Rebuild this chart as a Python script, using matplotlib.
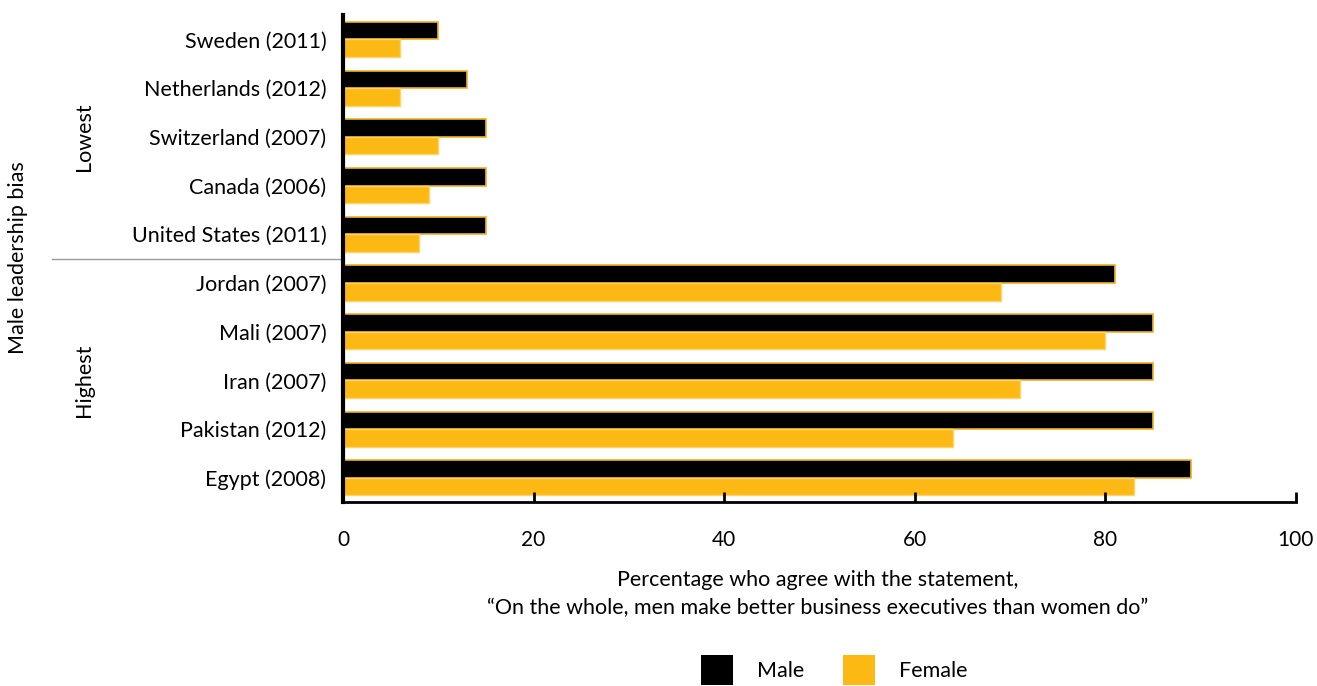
import matplotlib
matplotlib.use("Agg")
import matplotlib.pyplot as plt
import numpy as np
from matplotlib.patches import Patch
import matplotlib.transforms as mtransforms

plt.rcParams['font.family'] = ['Lato', 'DejaVu Sans']

countries = ["Sweden (2011)", "Netherlands (2012)", "Switzerland (2007)", "Canada (2006)",
             "United States (2011)", "Jordan (2007)", "Mali (2007)", "Iran (2007)",
             "Pakistan (2012)", "Egypt (2008)"]
male = [10, 13, 15, 15, 15, 81, 85, 85, 85, 89]
female = [6, 6, 10, 9, 8, 69, 80, 71, 64, 83]
groups = ["Lowest", "Highest"]
xticks = [0, 20, 40, 60, 80, 100]

fig = plt.figure(figsize=(13.17, 6.86), dpi=100)
ax = fig.add_axes([0.2604, 0.268, 0.7236, 0.710])

y = np.arange(len(countries))
h = 0.36
ax.barh(y - h / 2, male, height=h, color="#000000", edgecolor="#F2B01E", linewidth=1.2, label="Male")
ax.barh(y + h / 2, female, height=h, color="#FDB913", edgecolor="#FDD36A", linewidth=1.0, label="Female")

ax.set_ylim(len(countries) - 0.5, -0.5)
ax.set_xlim(0, 100)
ax.set_yticks(y)
ax.set_yticklabels(countries, fontsize=15.5)
ax.tick_params(axis='y', length=0, pad=12)
ax.set_xticks(xticks)
ax.set_xticklabels([str(v) for v in xticks], fontsize=15)
ax.tick_params(axis='x', which='major', direction='in', length=7, width=2, pad=20, color='black')
ax.set_xticks([xticks[-1]], minor=True)
ax.tick_params(axis='x', which='minor', direction='in', length=14, width=2, color='black')

for s in ['top', 'right']:
    ax.spines[s].set_visible(False)
ax.spines['left'].set_linewidth(3)
ax.spines['bottom'].set_linewidth(2)

# separator between groups
trans = mtransforms.blended_transform_factory(ax.transAxes, ax.transData)
ax.plot([-0.305, 0], [4.5, 4.5], transform=trans, color="#9a9a9a", lw=1, clip_on=False)

ax.text(-0.272, 2.0, groups[0], transform=trans, rotation=90, ha='center', va='center', fontsize=15.5)
ax.text(-0.272, 7.0, groups[1], transform=trans, rotation=90, ha='center', va='center', fontsize=15.5)
fig.text(18 / 1317, 1 - 258 / 686, "Male leadership bias", rotation=90, ha='center', va='center', fontsize=15.5)

fig.text(818 / 1317, 1 - 594 / 686,
         "Percentage who agree with the statement,\n\u201cOn the whole, men make better business executives than women do\u201d",
         ha='center', va='center', fontsize=15.5, linespacing=1.45)

handles = [Patch(facecolor="#000000", edgecolor="none", label="Male"),
           Patch(facecolor="#FDB913", edgecolor="none", label="Female")]
fig.legend(handles=handles, loc='center', bbox_to_anchor=(834 / 1317, 1 - 670 / 686), ncol=2,
           frameon=False, fontsize=15.5, handlelength=1.5, handleheight=1.7, columnspacing=1.8,
           handletextpad=1.1)

fig.savefig("out.png", dpi=100)
